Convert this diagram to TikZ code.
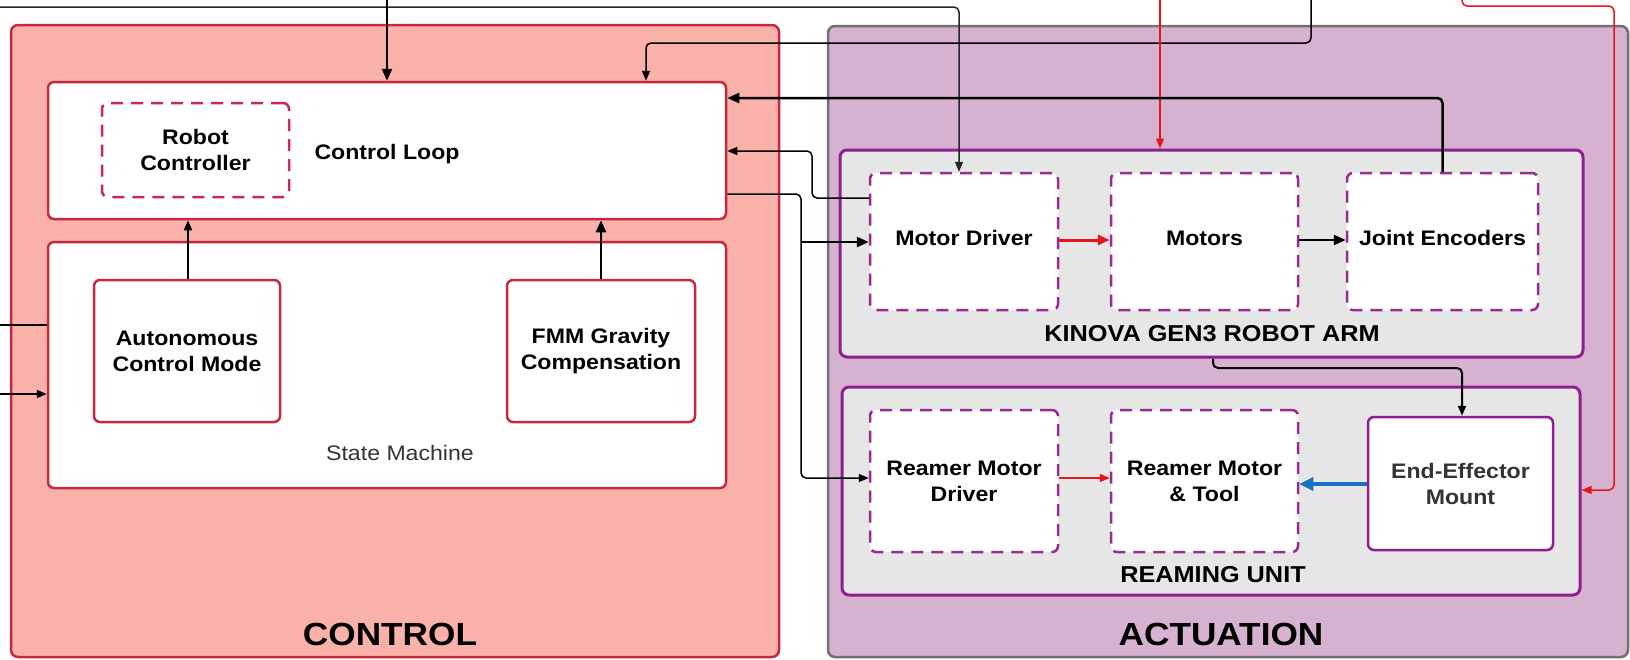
\documentclass[tikz,border=0pt]{standalone}
\usepackage{fontspec}
\setmainfont[FakeStretch=1.1]{Liberation Sans}
\usetikzlibrary{arrows.meta}
\definecolor{ctlfill}{HTML}{F9B1AA}
\definecolor{ctlline}{HTML}{C8283E}
\definecolor{actfill}{HTML}{D7B1D0}
\definecolor{actline}{HTML}{707070}
\definecolor{kinfill}{HTML}{E6E6E6}
\definecolor{purp}{HTML}{8E1F90}
\definecolor{dashpurp}{HTML}{9A2B8E}
\definecolor{dashred}{HTML}{C8285A}
\definecolor{redarr}{HTML}{E8141E}
\definecolor{bluearr}{HTML}{1B6FC0}
\newcommand\mylbl{\fontsize{21}{26}\selectfont\bfseries}
\newcommand\mysec{\fontsize{23}{28}\selectfont\bfseries}
\newcommand\mybig{\fontsize{32}{38}\selectfont\bfseries}
\newcommand\myreg{\fontsize{21}{26}\selectfont}
\begin{document}
\begin{tikzpicture}[x=1pt,y=-1pt,
  cont/.style={draw, rounded corners=7pt, line width=2.5pt, inner sep=0pt},
  redbox/.style={draw=ctlline, fill=white, rounded corners=6pt, line width=2.5pt, inner sep=0pt, align=center, font=\mylbl},
  reddash/.style={redbox, draw=dashred, dash pattern=on 12pt off 8pt},
  purpbox/.style={draw=purp, fill=white, rounded corners=6pt, line width=2.5pt, inner sep=0pt, align=center, font=\mylbl},
  purpdash/.style={purpbox, draw=dashpurp, dash pattern=on 12pt off 8pt},
  grayunit/.style={draw=purp, fill=kinfill, rounded corners=7pt, line width=3pt, inner sep=0pt},
  thinarr/.style={draw=black, line width=1.5pt, rounded corners=5pt, -{Triangle[length=10pt,width=8pt]}},
  thickarr/.style={draw=black, line width=2.5pt, rounded corners=5pt, -{Triangle[length=12pt,width=10pt]}},
  redthin/.style={draw=redarr, line width=1.5pt, rounded corners=5pt, -{Triangle[length=10pt,width=8pt]}},
  redthick/.style={draw=redarr, line width=3pt, -{Triangle[length=12pt,width=10pt]}},
  bluethick/.style={draw=bluearr, line width=4.5pt, -{Triangle[length=14pt,width=13pt]}},
]
\useasboundingbox (0,0) rectangle (1630,659);
\fill[white] (0,0) rectangle (1630,659);

% containers
\node[cont, draw=ctlline, fill=ctlfill, minimum width=768pt, minimum height=632pt] (control) at (395,341) {};
\node[cont, draw=actline, fill=actfill, minimum width=800pt, minimum height=631pt] (actuation) at (1228,341.5) {};

% control side
\node[redbox, minimum width=678pt, minimum height=137pt] (loop) at (387,150.5) {};
\node[reddash, minimum width=187pt, minimum height=94pt] (robctl) at (195.5,150) {Robot\\Controller};
\node[font=\mylbl, anchor=base] (looplbl) at (387,159) {Control Loop};
\node[redbox, minimum width=678pt, minimum height=246pt] (sm) at (387,365) {};
\node[redbox, minimum width=186pt, minimum height=142pt] (auto) at (187,351) {Autonomous\\Control Mode};
\node[redbox, minimum width=188pt, minimum height=142pt] (fmm) at (601,351) {FMM Gravity\\Compensation};
\node[font=\myreg, text=black!80, anchor=base] (smlbl) at (400,460) {State Machine};
\node[font=\mybig, anchor=base] (ctllbl) at (390,645) {CONTROL};

% actuation side
\node[grayunit, minimum width=743pt, minimum height=207pt] (kinova) at (1211.5,253.5) {};
\node[purpdash, minimum width=188pt, minimum height=137pt] (md) at (964,241.5) {};
\node[purpdash, minimum width=187pt, minimum height=137pt] (motors) at (1204.5,241.5) {};
\node[purpdash, minimum width=191pt, minimum height=137pt] (je) at (1442.5,241.5) {};
\node[font=\mylbl, anchor=base] at (964,245) {Motor Driver};
\node[font=\mylbl, anchor=base] at (1204.5,245) {Motors};
\node[font=\mylbl, anchor=base] at (1442.5,245) {Joint Encoders};
\node[font=\mysec, anchor=base] (kinlbl) at (1212,341) {KINOVA GEN3 ROBOT ARM};

\node[grayunit, minimum width=738pt, minimum height=208pt] (ream) at (1211,491) {};
\node[purpdash, minimum width=188pt, minimum height=142pt] (rmd) at (964,481) {Reamer Motor\\Driver};
\node[purpdash, minimum width=187pt, minimum height=142pt] (rmt) at (1204.5,481) {Reamer Motor\\\& Tool};
\node[purpbox, minimum width=185pt, minimum height=133pt, text=black!80] (eem) at (1460.5,483.5) {End-Effector\\Mount};
\node[font=\mysec, anchor=base] (reamlbl) at (1213,582) {REAMING UNIT};
\node[font=\mybig, anchor=base] (actlbl) at (1221,645) {ACTUATION};

% free ends
\coordinate (topL) at (0,7);
\coordinate (topA) at (387,0);
\coordinate (topB) at (1311,0);
\coordinate (topR) at (1160,0);
\coordinate (topRR) at (1462,0);
\coordinate (leftA) at (0,325);
\coordinate (leftB) at (0,394);

% connectors
\draw[thinarr, draw=black!85] (topL) -- (959,7) -- (959,0 |- md.north);
\draw[thickarr] (topA) -- (topA |- loop.north);
\draw[thinarr] (topB) -- (1311,43) -- (646,43) -- (646,0 |- loop.north);
\draw[redthin] (topR) -- (topR |- kinova.north);
\draw[redthin] (topRR) -- (1462,6) -- (1614,6) -- (1614,490) -- (ream.east |- 0,490);
\draw[thickarr] (je.north) -- (1442.5,98) -- (loop.east |- 0,98);
\draw[thinarr] (md.west |- 0,198) -- (812,198) -- (812,151) -- (loop.east |- 0,151);
\draw[thinarr] (loop.east |- 0,194) -- (801,194) -- (801,478) -- (rmd.west |- 0,478);
\draw[thickarr] (801,242) -- (md.west |- 0,242);
\draw[redthick] (md.east |- 0,240) -- (motors.west |- 0,240);
\draw[thickarr] (motors.east |- 0,240) -- (je.west |- 0,240);
\draw[thinarr, line width=2pt] (1213,0 |- kinova.south) -- (1213,368) -- (1462,368) -- (1462,0 |- eem.north);
\draw[redthin] (rmd.east |- 0,478) -- (rmt.west |- 0,478);
\draw[bluethick] (eem.west |- 0,484) -- (rmt.east |- 0,484);
\draw[thinarr, line width=2pt] (188,0 |- auto.north) -- (188,0 |- loop.south);
\draw[thickarr] (601,0 |- fmm.north) -- (601,0 |- loop.south);
\draw[black, line width=1.5pt] (leftA) -- (leftA -| sm.west);
\draw[thinarr] (leftB) -- (leftB -| sm.west);
\end{tikzpicture}
\end{document}
